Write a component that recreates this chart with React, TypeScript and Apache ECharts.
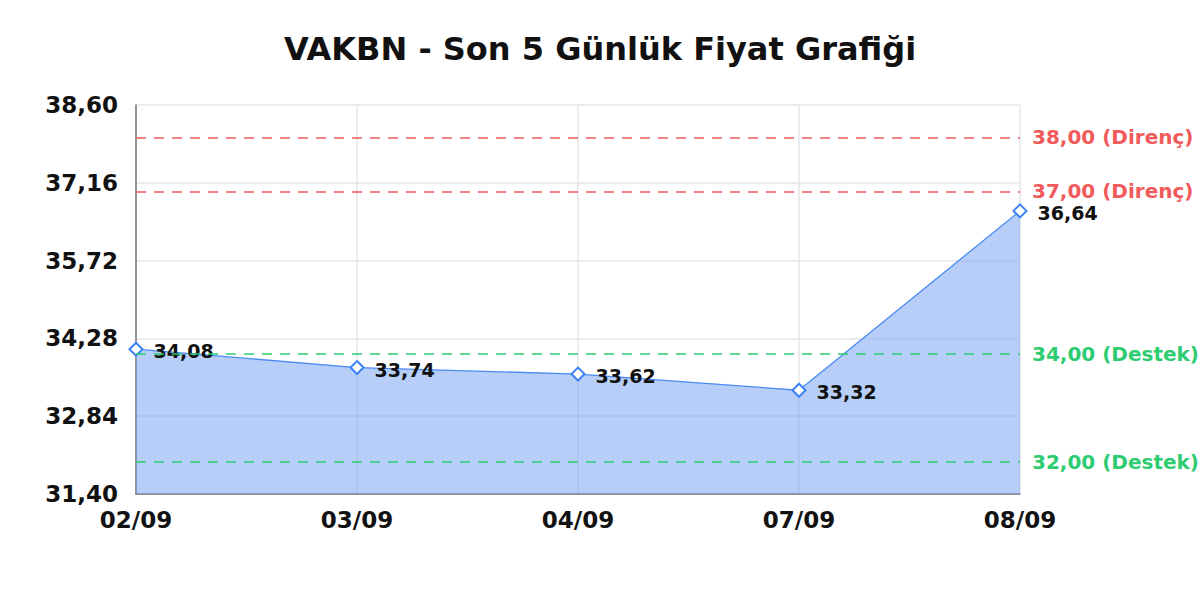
import React, { useEffect, useRef } from "react";
import * as echarts from "echarts";

const title = "VAKBN - Son 5 Günlük Fiyat Grafiği";
const categories = ["02/09", "03/09", "04/09", "07/09", "08/09"];
const prices = [34.08, 33.74, 33.62, 33.32, 36.64];
const resistance = [38, 37];
const support = [34, 32];
const yMin = 31.4;
const yMax = 38.6;
const yStep = 1.44;

const fmt = (v: number) => v.toFixed(2).replace(".", ",");

export default function App() {
  const ref = useRef<HTMLDivElement>(null);
  useEffect(() => {
    if (!ref.current) return;
    const chart = echarts.init(ref.current, undefined, { renderer: "svg" });
    const font = "DejaVu Sans";
    const markData: any[] = [
      ...resistance.map((v) => ({
        yAxis: v,
        lineStyle: { color: "#f05a5a", type: [10, 8], width: 1.5 },
        label: { color: "#f05a5a", formatter: fmt(v) + " (Direnç)" },
      })),
      ...support.map((v) => ({
        yAxis: v,
        lineStyle: { color: "#2ecc71", type: [10, 8], width: 1.5 },
        label: { color: "#2ecc71", formatter: fmt(v) + " (Destek)" },
      })),
    ];
    chart.setOption({
      animation: false,
      backgroundColor: "#ffffff",
      title: {
        text: title,
        left: "center",
        top: 28,
        textStyle: { fontFamily: font, fontSize: 32, fontWeight: "bold", color: "#111" },
      },
      grid: { left: 136, right: 180, top: 105, bottom: 106 },
      xAxis: {
        type: "category",
        data: categories,
        boundaryGap: false,
        axisLine: { lineStyle: { color: "#777", width: 1.5 } },
        axisTick: { show: false },
        axisLabel: { fontFamily: font, fontSize: 23, fontWeight: "bold", color: "#111", margin: 14 },
        splitLine: { show: true, lineStyle: { color: "#e6e6e6", width: 1.5 } },
      },
      yAxis: {
        type: "value",
        min: yMin,
        max: yMax,
        interval: yStep,
        axisLine: { show: true, lineStyle: { color: "#777", width: 1.5 } },
        axisTick: { show: false },
        axisLabel: {
          fontFamily: font,
          fontSize: 23,
          fontWeight: "bold",
          color: "#111",
          margin: 18,
          formatter: (v: number) => fmt(v),
        },
        splitLine: { show: true, lineStyle: { color: "#e6e6e6", width: 1.5 } },
      },
      series: [
        {
          type: "line",
          data: prices,
          symbol: "emptyDiamond",
          symbolSize: 13,
          lineStyle: { color: "#4a8af4", width: 1.3 },
          itemStyle: { color: "#3b82f6", borderWidth: 2.5 },
          areaStyle: { color: "rgba(111,159,241,0.5)", opacity: 1 },
          label: {
            show: true,
            position: "right",
            distance: 10,
            offset: [0, 2],
            fontFamily: font,
            fontSize: 19,
            fontWeight: "bold",
            color: "#111",
            formatter: (p: any) => fmt(p.value),
          },
          markLine: {
            silent: true,
            symbol: "none",
            label: {
              position: "end",
              distance: 12,
              fontFamily: font,
              fontSize: 20,
              fontWeight: "bold",
            },
            data: markData,
          },
        },
      ],
    });
    return () => chart.dispose();
  }, []);
  return (
    <div
      ref={ref}
      style={{ position: "fixed", left: 0, top: 0, width: 1200, height: 600 }}
    />
  );
}
